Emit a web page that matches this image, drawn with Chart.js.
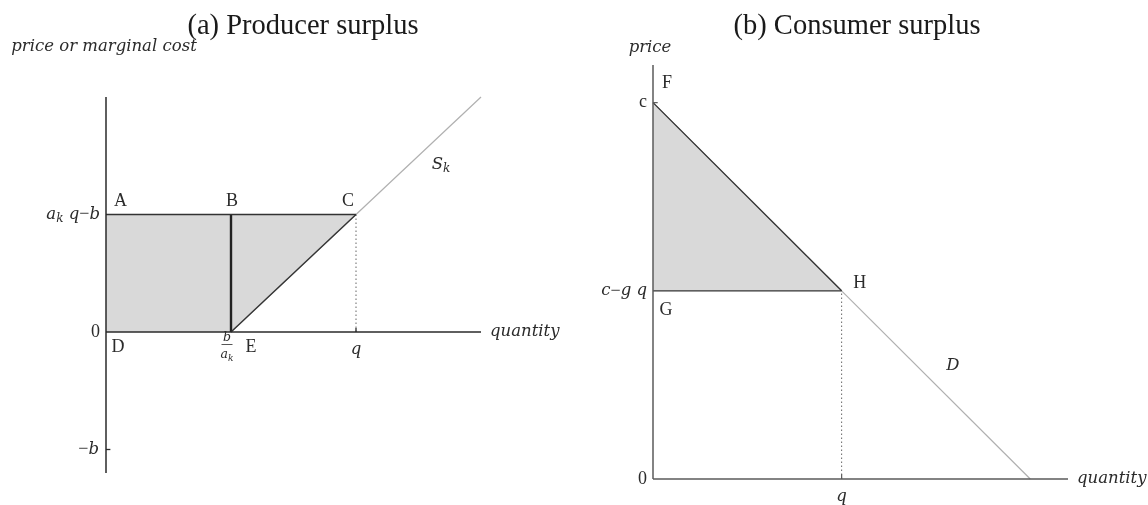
<!DOCTYPE html>
<html>
<head>
<meta charset="utf-8">
<script src="https://cdn.jsdelivr.net/npm/chart.js@4.4.1/dist/chart.umd.min.js"></script>
<style>
  body { margin: 0; background: #fff; }
  .panel { position: absolute; top: 0; width: 574px; height: 505px; }
  #left { left: 0; }
  #right { left: 574px; }
</style>
</head>
<body>
<div class="panel" id="left"><canvas id="producer" width="574" height="505"></canvas></div>
<div class="panel" id="right"><canvas id="consumer" width="574" height="505"></canvas></div>
<script>
// (a) producer surplus, units with b = 1, a_k = 1, q = 2
const supplyQty = [1, 2, 3];
const supplyPrice = [0, 1, 2];
const breakEven = 1;      // b / a_k
const qtyA = 2;           // q
const priceA = 1;         // a_k q - b
const negB = -1;          // -b
const axisAQty = [0, 3];
const axisAPrice = [-1.2, 2];

// (b) consumer surplus, units with c = 2, g = 1, q = 1
const demandQty = [0, 1, 2];
const demandPrice = [2, 1, 0];
const qtyB = 1;           // q
const priceB = 1;         // c - g q
const axisBQty = [0, 2.2];
const axisBPrice = [0, 2.2];

const FILL = '#d9d9d9';
const DARK = '#333333';
const CURVE = '#b0b0b0';
const SERIF = '"Liberation Serif", serif';
const MATH = '"DejaVu Serif", serif';

function seg(xs, ys, style) {
  return Object.assign({
    data: xs.map((x, i) => ({ x: x, y: ys[i] })),
    showLine: true, pointRadius: 0, pointHoverRadius: 0,
    clip: false, fill: false, tension: 0,
    borderColor: DARK, borderWidth: 1.3, order: 1
  }, style);
}

function fontFor(r) {
  const size = r.size || (r.it ? 16.5 : 18);
  return (r.it ? 'italic ' : '') + size + 'px ' + (r.it ? MATH : SERIF);
}

// draw a row of text runs (italic / subscript pieces) at x,y
function drawRuns(ctx, runs, x, y, align, color) {
  ctx.save();
  ctx.textBaseline = 'middle';
  ctx.fillStyle = color || '#2b2b2b';
  const widths = runs.map(r => { ctx.font = fontFor(r); return ctx.measureText(r.t).width; });
  const total = widths.reduce((a, b) => a + b, 0);
  let cx = align === 'left' ? x : align === 'right' ? x - total : x - total / 2;
  runs.forEach((r, i) => {
    ctx.font = fontFor(r);
    ctx.textAlign = 'left';
    ctx.fillText(r.t, cx, y + (r.sub ? 4 : 0));
    cx += widths[i];
  });
  ctx.restore();
}

function labelPlugin(labels) {
  return {
    id: 'labels',
    afterDatasetsDraw(chart) {
      const ctx = chart.ctx, sx = chart.scales.x, sy = chart.scales.y;
      labels.forEach(l => {
        const px = l.abs ? l.x : sx.getPixelForValue(l.x) + (l.dx || 0);
        const py = l.abs ? l.y : sy.getPixelForValue(l.y) + (l.dy || 0);
        drawRuns(ctx, l.runs, px, py, l.align || 'center', l.color);
        if (l.bar) {
          ctx.save();
          ctx.strokeStyle = '#2b2b2b';
          ctx.lineWidth = 0.8;
          ctx.beginPath();
          ctx.moveTo(px - l.bar / 2, py + l.barDy);
          ctx.lineTo(px + l.bar / 2, py + l.barDy);
          ctx.stroke();
          ctx.restore();
        }
      });
    }
  };
}

const it = t => [{ t: t, it: true }];
const up = t => [{ t: t }];

function baseOptions(xr, yr, padding) {
  return {
    responsive: false,
    animation: false,
    devicePixelRatio: 1,
    events: [],
    layout: { padding: padding },
    plugins: { legend: { display: false }, tooltip: { enabled: false } },
    scales: {
      x: { type: 'linear', min: xr[0], max: xr[1], display: false },
      y: { type: 'linear', min: yr[0], max: yr[1], display: false }
    }
  };
}

// ---------- (a) Producer surplus ----------
const shadeQ = [0, breakEven, supplyQty[1]];
new Chart(document.getElementById('producer'), {
  type: 'scatter',
  data: {
    datasets: [
      seg(shadeQ, [priceA, priceA, priceA], { borderWidth: 0, borderColor: 'transparent', backgroundColor: FILL, fill: 1, order: 10 }),
      seg(shadeQ, [0, 0, supplyPrice[1]], { borderWidth: 0, borderColor: 'transparent', order: 10 }),
      seg(supplyQty, supplyPrice, { borderColor: CURVE, borderWidth: 1.2, order: 5 }),
      seg([qtyA, qtyA], [0, priceA], { borderColor: '#666', borderWidth: 1, borderDash: [1.5, 2.5], order: 4 }),
      seg(supplyQty.slice(0, 2), supplyPrice.slice(0, 2), {}),
      seg([0, qtyA], [priceA, priceA], {}),
      seg([breakEven, breakEven], [0, priceA], { borderWidth: 2.4, borderColor: '#222' }),
      seg(axisAQty, [0, 0], { borderColor: '#2a2a2a', borderWidth: 1.5, order: 0 }),
      seg([0, 0], axisAPrice, { borderColor: '#2a2a2a', borderWidth: 1.5, order: 0 }),
      seg([0, 0.035], [negB, negB], { borderColor: '#2a2a2a', borderWidth: 1.3, order: 0 }),
      seg([qtyA, qtyA], [0, 0.035], { borderColor: '#2a2a2a', borderWidth: 1.3, order: 0 })
    ]
  },
  options: baseOptions(axisAQty, axisAPrice, { left: 106, right: 93, top: 97, bottom: 32 }),
  plugins: [labelPlugin([
    { abs: true, x: 303, y: 27, runs: [{ t: '(a) Producer surplus', size: 28.5 }], color: '#1a1a1a' },
    { x: 0, y: axisAPrice[1], dx: -2, dy: -50, runs: it('price or marginal cost') },
    { x: 0, y: priceA, dx: -6, align: 'right', runs: [{ t: 'a', it: true }, { t: 'k', it: true, sub: true, size: 12 }, { t: ' q', it: true }, { t: '−' }, { t: 'b', it: true }] },
    { x: 0, y: 0, dx: -6, align: 'right', runs: up('0') },
    { x: 0, y: negB, dx: -7, align: 'right', runs: [{ t: '−' }, { t: 'b', it: true }] },
    { x: 0, y: priceA, dx: 8, dy: -13, align: 'left', runs: up('A') },
    { x: breakEven, y: priceA, dx: 1, dy: -13, runs: up('B') },
    { x: qtyA, y: priceA, dx: -8, dy: -13, runs: up('C') },
    { x: 0, y: 0, dx: 12, dy: 15, runs: up('D') },
    { x: breakEven, y: 0, dx: 20, dy: 15, runs: up('E') },
    { x: breakEven, y: 0, dx: -4, dy: 6, runs: [{ t: 'b', it: true, size: 12.5 }], bar: 11, barDy: 6.5 },
    { x: breakEven, y: 0, dx: -4, dy: 23, runs: [{ t: 'a', it: true, size: 12.5 }, { t: 'k', it: true, sub: true, size: 9 }] },
    { x: qtyA, y: 0, dy: 18, runs: it('q') },
    { x: axisAQty[1], y: 0, dx: 9, align: 'left', runs: it('quantity') },
    { x: supplyQty[2], y: supplyPrice[2], dx: -40, dy: 68, runs: [{ t: 'S', it: true }, { t: 'k', it: true, sub: true, size: 12 }] }
  ])]
});

// ---------- (b) Consumer surplus ----------
const shadeD = demandQty.slice(0, 2);
new Chart(document.getElementById('consumer'), {
  type: 'scatter',
  data: {
    datasets: [
      seg(shadeD, demandPrice.slice(0, 2), { borderWidth: 0, borderColor: 'transparent', backgroundColor: FILL, fill: 1, order: 10 }),
      seg(shadeD, [priceB, priceB], { borderWidth: 0, borderColor: 'transparent', order: 10 }),
      seg(demandQty, demandPrice, { borderColor: CURVE, borderWidth: 1.2, order: 5 }),
      seg([qtyB, qtyB], [0, priceB], { borderColor: '#666', borderWidth: 1, borderDash: [1.5, 2.5], order: 4 }),
      seg(shadeD, demandPrice.slice(0, 2), {}),
      seg([0, qtyB], [priceB, priceB], {}),
      seg(axisBQty, [0, 0], { borderColor: '#5a5a5a', borderWidth: 1.5, order: 0 }),
      seg([0, 0], axisBPrice, { borderColor: '#5a5a5a', borderWidth: 1.5, order: 0 }),
      seg([0, 0.025], [demandPrice[0], demandPrice[0]], { borderColor: '#5a5a5a', borderWidth: 1.2, order: 0 }),
      seg([qtyB, qtyB], [0, 0.025], { borderColor: '#5a5a5a', borderWidth: 1.2, order: 0 })
    ]
  },
  options: baseOptions(axisBQty, axisBPrice, { left: 79, right: 80, top: 65, bottom: 26 }),
  plugins: [labelPlugin([
    { abs: true, x: 283, y: 27, runs: [{ t: '(b) Consumer surplus', size: 28.5 }], color: '#1a1a1a' },
    { x: 0, y: axisBPrice[1], dx: -3, dy: -17, runs: it('price') },
    { x: 0, y: demandPrice[0], dx: 14, dy: -19, runs: up('F') },
    { x: 0, y: demandPrice[0], dx: -6, align: 'right', runs: up('c') },
    { x: 0, y: priceB, dx: -6, align: 'right', runs: [{ t: 'c', it: true }, { t: '−' }, { t: 'g q', it: true }] },
    { x: 0, y: priceB, dx: 13, dy: 19, runs: up('G') },
    { x: qtyB, y: priceB, dx: 18, dy: -8, runs: up('H') },
    { x: 0, y: 0, dx: -6, align: 'right', runs: up('0') },
    { x: qtyB, y: 0, dy: 18, runs: it('q') },
    { x: axisBQty[1], y: 0, dx: 9, align: 'left', runs: it('quantity') },
    { x: 1.59, y: 0.6, runs: it('D') }
  ])]
});
</script>
</body>
</html>
